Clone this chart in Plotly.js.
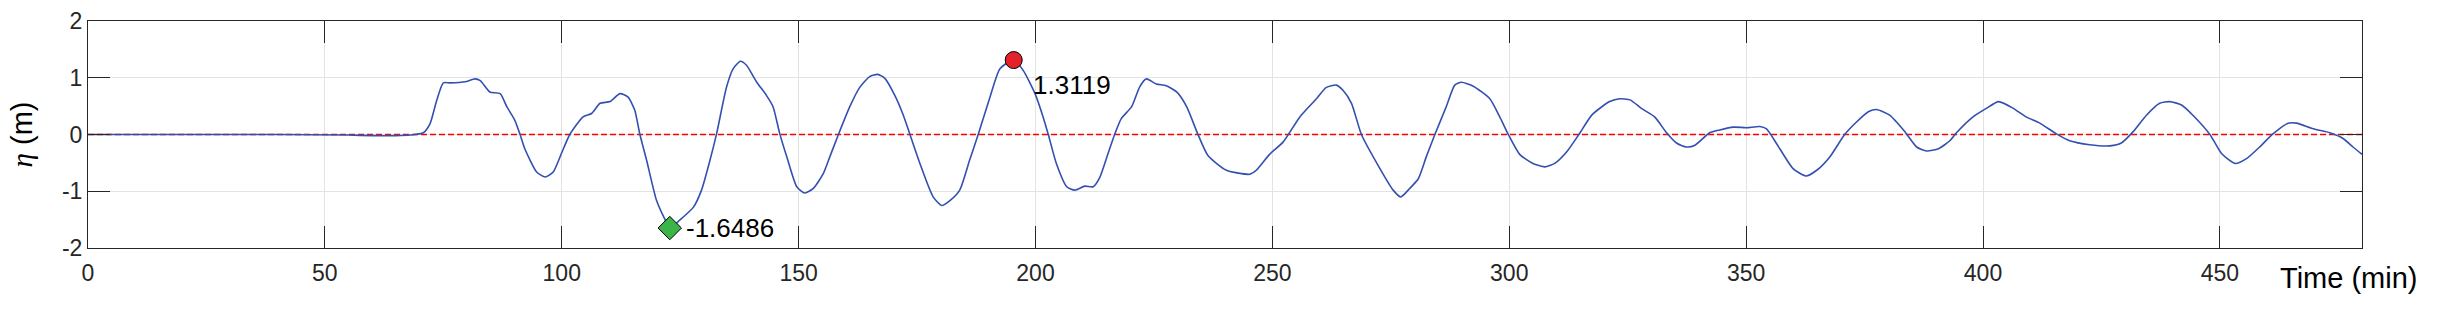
<!DOCTYPE html>
<html>
<head>
<meta charset="utf-8">
<script src="https://cdn.plot.ly/plotly-3.0.1.min.js"></script>
<style>html,body{margin:0;padding:0;background:#fff;}#chart{width:2441px;height:312px;}</style>
</head>
<body>
<div id="chart"></div>
<script>
// Time (min)
const timeMin = [0, 20, 40, 55, 60, 65, 68, 70.8, 72.2, 73.6, 75.0, 76.4, 79.6, 81.7, 82.8, 84.8, 87.0, 88.4, 90.1, 91.2, 92.2, 94.7, 96.5, 98.2, 99.9, 101.7, 104.5, 106.3, 108.1, 110.2, 112.3, 114.0, 115.4, 116.5, 117.9, 120.0, 121.8, 122.8, 124.9, 127.8, 129.5, 131.3, 132.7, 134.8, 136.2, 137.7, 139.0, 141.1, 143.2, 144.6, 146.0, 147.6, 149.6, 151.3, 153.1, 155.2, 156.6, 158.4, 160.8, 162.9, 165.0, 166.7, 168.2, 170.3, 172.1, 173.5, 175.6, 178.4, 180.2, 182.0, 184.0, 186.1, 187.9, 190.4, 192.5, 195.4, 197.4, 199.9, 201.6, 202.7, 204.4, 206.6, 208.3, 210.4, 212.2, 213.6, 215.3, 216.7, 218.1, 220.3, 222.0, 223.4, 225.5, 227.6, 229.8, 231.9, 234.2, 236.4, 240.3, 245.2, 246.6, 249.4, 252.3, 255.8, 259.3, 261.4, 263.5, 264.9, 266.7, 268.8, 272.7, 275.5, 277.1, 279.0, 280.8, 282.5, 284.3, 286.7, 288.5, 289.9, 292.4, 295.9, 298.0, 299.8, 302.2, 305.0, 307.5, 309.6, 312.1, 314.7, 317.5, 321.2, 323.3, 325.5, 327.9, 330.7, 333.2, 335.3, 337.4, 339.2, 342.3, 344.4, 347.3, 350.1, 352.9, 354.3, 357.1, 359.9, 362.6, 364.9, 367.7, 370.8, 373.3, 375.8, 377.5, 380.3, 383.5, 386.0, 388.1, 390.6, 393.0, 394.4, 397.9, 400.7, 403.3, 406.4, 409.1, 412.0, 415.5, 418.3, 422.5, 426.8, 429.2, 431.7, 434.5, 437.3, 439.4, 441.9, 444.3, 447.9, 450.4, 453.2, 455.7, 458.4, 461.2, 464.4, 466.2, 469.7, 473.2, 476.0, 478.1, 480];
// Water level eta (m)
const etaM = [0, 0, 0, -0.01, -0.02, -0.02, -0.01, 0.03, 0.19, 0.6, 0.91, 0.91, 0.93, 0.98, 0.95, 0.75, 0.72, 0.49, 0.25, 0, -0.25, -0.66, -0.75, -0.66, -0.34, 0, 0.31, 0.37, 0.55, 0.58, 0.72, 0.66, 0.43, 0, -0.45, -1.16, -1.5, -1.6486, -1.51, -1.28, -0.98, -0.45, 0.02, 0.84, 1.16, 1.29, 1.22, 0.93, 0.69, 0.49, 0.02, -0.42, -0.92, -1.03, -0.95, -0.69, -0.39, 0, 0.49, 0.83, 1.02, 1.06, 0.99, 0.69, 0.34, 0, -0.51, -1.1, -1.25, -1.16, -0.98, -0.45, 0, 0.66, 1.16, 1.3119, 1.13, 0.72, 0.31, 0, -0.51, -0.92, -0.98, -0.91, -0.92, -0.75, -0.34, 0, 0.28, 0.49, 0.84, 0.98, 0.89, 0.86, 0.75, 0.49, 0.02, -0.37, -0.63, -0.70, -0.63, -0.35, -0.13, 0.31, 0.63, 0.83, 0.87, 0.78, 0.55, 0, -0.6, -0.98, -1.1, -0.95, -0.78, -0.39, 0, 0.49, 0.87, 0.92, 0.85, 0.63, 0.31, 0, -0.35, -0.51, -0.57, -0.51, -0.31, 0, 0.35, 0.58, 0.63, 0.61, 0.46, 0.31, 0.03, -0.15, -0.22, -0.19, 0.03, 0.08, 0.13, 0.12, 0.14, 0.10, -0.25, -0.6, -0.73, -0.63, -0.39, 0, 0.22, 0.4, 0.44, 0.34, 0.05, -0.22, -0.29, -0.25, -0.11, 0.03, 0.31, 0.46, 0.58, 0.46, 0.31, 0.2, 0.01, -0.11, -0.18, -0.2, -0.15, 0.05, 0.34, 0.55, 0.58, 0.52, 0.34, 0, -0.34, -0.51, -0.42, -0.22, 0.01, 0.2, 0.2, 0.1, 0.03, -0.07, -0.22, -0.35];
// Reference level
const refX = [0, 480];
const refY = [0, 0];
// Extremes
const maxPoint = {t: 195.4, eta: 1.3119, label: '1.3119'};
const minPoint = {t: 122.8, eta: -1.6486, label: '-1.6486'};
const xTicks = [0, 50, 100, 150, 200, 250, 300, 350, 400, 450];
const yTicks = [-2, -1, 0, 1, 2];

const FONT = 'Liberation Sans, Arial, sans-serif';
const AX = '#262626';

const traces = [
  {x: refX, y: refY, mode: 'lines', line: {color: '#ff0000', width: 1.6, dash: '6px,3px'}, hoverinfo: 'skip', showlegend: false},
  {x: timeMin, y: etaM, mode: 'lines', line: {color: '#3350b0', width: 1.6, shape: 'spline', smoothing: 0.6}, showlegend: false},
  {x: [maxPoint.t], y: [maxPoint.eta], mode: 'markers', marker: {symbol: 'circle', size: 17, color: '#e3222a', line: {color: '#000', width: 1}}, showlegend: false},
  {x: [minPoint.t], y: [minPoint.eta], mode: 'markers', marker: {symbol: 'diamond', size: 18, color: '#3bb44a', line: {color: '#000', width: 1}}, showlegend: false}
];

const layout = {
  width: 2441, height: 312,
  margin: {l: 88, r: 79, t: 21, b: 64, pad: 0},
  paper_bgcolor: '#fff', plot_bgcolor: '#fff',
  font: {family: FONT, size: 23, color: AX},
  xaxis: {
    range: [0, 480], tickvals: xTicks, ticktext: xTicks.map(String),
    showgrid: true, gridcolor: '#e3e3e3', gridwidth: 1, zeroline: false,
    showline: true, linecolor: AX, linewidth: 1, mirror: 'ticks',
    ticks: 'inside', ticklen: 22, tickcolor: AX, tickwidth: 1,
    tickfont: {family: FONT, size: 23, color: AX}, ticklabelstandoff: 4
  },
  yaxis: {
    range: [-2, 2], tickvals: yTicks, ticktext: yTicks.map(String),
    showgrid: true, gridcolor: '#e3e3e3', gridwidth: 1, zeroline: false,
    showline: true, linecolor: AX, linewidth: 1, mirror: 'ticks',
    ticks: 'inside', ticklen: 22, tickcolor: AX, tickwidth: 1,
    tickfont: {family: FONT, size: 23, color: AX},
    title: {text: '<span style="font-family:Liberation Serif, DejaVu Serif, serif"><i>η</i></span> (m)', font: {family: FONT, size: 29, color: '#000'}, standoff: 20}
  },
  annotations: [
    {xref: 'paper', yref: 'paper', x: 0.963, y: -0.134, xanchor: 'left', yanchor: 'middle', showarrow: false,
     text: 'Time (min)', font: {family: FONT, size: 29, color: '#000'}},
    {x: maxPoint.t, y: maxPoint.eta, xanchor: 'left', yanchor: 'middle', xshift: 17, yshift: -25, showarrow: false,
     text: maxPoint.label, font: {family: FONT, size: 26, color: '#000'}},
    {x: minPoint.t, y: minPoint.eta, xanchor: 'left', yanchor: 'middle', xshift: 14, yshift: 0, showarrow: false,
     text: minPoint.label, font: {family: FONT, size: 26, color: '#000'}}
  ],
  showlegend: false
};

Plotly.newPlot('chart', traces, layout, {displayModeBar: false, staticPlot: true});
</script>
</body>
</html>
